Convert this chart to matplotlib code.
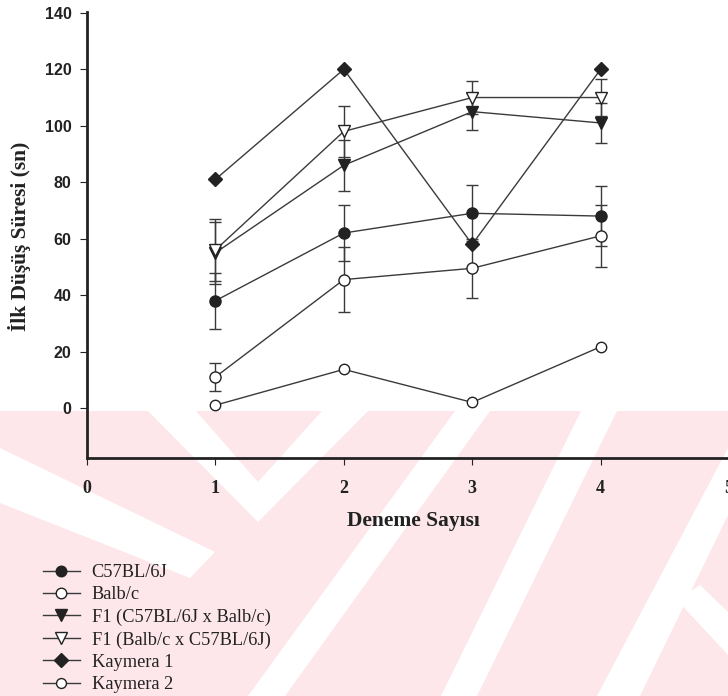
import matplotlib
matplotlib.use("Agg")
import matplotlib.pyplot as plt
from matplotlib.patches import Polygon
from matplotlib.lines import Line2D

# ---------------- data ----------------
trials = [1, 2, 3, 4]
series_names = ["C57BL/6J", "Balb/c", "F1 (C57BL/6J x Balb/c)",
                "F1 (Balb/c x C57BL/6J)", "Kaymera 1", "Kaymera 2"]
c57 = [38, 62, 69, 68]
c57_err = [10, 10, 10, 10.5]
balbc = [11, 45.5, 49.5, 61]
balbc_err = [5, 11.5, 10.5, 11]
f1_cb = [55, 86, 105, 101]
f1_cb_err = [11, 9, 6.5, 7]
f1_bc = [56, 98, 110, 110]
f1_bc_err = [11, 9, 6, 6.5]
kaymera1 = [81, 120, 58, 120]
kaymera2 = [1, 13.7, 2, 21.7]

x_ticks = [0, 1, 2, 3, 4, 5]
y_ticks = [0, 20, 40, 60, 80, 100, 120, 140]

# ---------------- figure ----------------
W, H = 728, 696
fig = plt.figure(figsize=(W / 100, H / 100), dpi=100)

# background watermark layer (pixel coordinates, y downward)
bg = fig.add_axes([0, 0, 1, 1], zorder=-5)
bg.set_xlim(0, W)
bg.set_ylim(H, 0)
bg.axis("off")
pink = (0.992, 0.906, 0.922)
bg.add_patch(Polygon([(0, 411), (W, 411), (W, H), (0, H)], closed=True,
                     facecolor=pink, edgecolor="none"))
white_shapes = [
    # left "\" band
    [(0, 448), (215, 552), (190, 578), (0, 503)],
    # V band
    [(148, 411), (196, 411), (258, 482), (322, 411), (368, 411), (258, 522)],
    # "/" bands
    [(455, 411), (490, 411), (285, 696), (248, 696)],
    [(581, 411), (617, 411), (477, 696), (441, 696)],
    [(W, 448), (W, 515), (640, 696), (597, 696)],
    # lower right "\" stripe
    [(677, 600), (700, 585), (W, 612), (W, 655)],
]
for pts in white_shapes:
    bg.add_patch(Polygon(pts, closed=True, facecolor="white", edgecolor="none"))

# main axes
ax_left = 87 / W
ax_bottom = 1 - 458 / H
ax_width = (729 - 87) / W
ax_height = (458 - 12) / H
ax = fig.add_axes([ax_left, ax_bottom, ax_width, ax_height])
ax.set_facecolor("none")

ink = "#222222"
lc = "#3a3a3a"
series = [
    (c57, c57_err, dict(marker="o", mfc=ink, ms=8)),
    (balbc, balbc_err, dict(marker="o", mfc="white", ms=8)),
    (f1_cb, f1_cb_err, dict(marker="v", mfc=ink, ms=8.5)),
    (f1_bc, f1_bc_err, dict(marker="v", mfc="white", ms=8.5)),
    (kaymera1, None, dict(marker="D", mfc=ink, ms=7)),
    (kaymera2, None, dict(marker="o", mfc="white", ms=7.5)),
]

handles = []
for name, (vals, errs, st) in zip(series_names, series):
    if errs is not None:
        ax.errorbar(trials, vals, yerr=errs, fmt="none", ecolor=lc,
                    elinewidth=1.0, capsize=4, capthick=1.0, zorder=2)
    ax.plot(trials, vals, color=lc, lw=1.0, zorder=3)
    ax.plot(trials, vals, linestyle="none", marker=st["marker"],
            mfc=st["mfc"], mec=ink, mew=1.0, ms=st["ms"], zorder=4)
    handles.append(Line2D([], [], color=lc, lw=1.0, marker=st["marker"],
                          mfc=st["mfc"], mec=ink, mew=1.0,
                          ms=st["ms"] * 0.95, label=name))

ax.set_xlim(0, 5)
ax.set_ylim(-17.7, 140.3)
ax.set_xticks(x_ticks)
ax.set_yticks(y_ticks)
ax.set_xticklabels([str(v) for v in x_ticks], fontfamily="Liberation Serif",
                   fontweight="bold", fontsize=13, color=ink)
ax.set_yticklabels([str(v) for v in y_ticks], fontfamily="Liberation Sans",
                   fontweight="bold", fontsize=11.5, color=ink)
ax.tick_params(axis="y", direction="out", length=5, width=0.8, pad=6, colors=ink)
ax.tick_params(axis="x", direction="out", length=5, width=0.8, pad=11, colors=ink)
for s in ("top", "right"):
    ax.spines[s].set_visible(False)
for s in ("left", "bottom"):
    ax.spines[s].set_linewidth(2.0)
    ax.spines[s].set_color(ink)

fig.text(413 / W, 1 - 521 / H, "Deneme Sayısı", ha="center", va="center",
         fontfamily="Liberation Serif", fontweight="bold", fontsize=15.5,
         color=ink)
fig.text(20 / W, 1 - 236 / H, "İlk Düşüş Süresi (sn)", ha="center",
         va="center", rotation=90, fontfamily="Liberation Serif",
         fontweight="bold", fontsize=15.5, color=ink)

leg = fig.legend(handles=handles, loc="upper left",
                 bbox_to_anchor=(43 / W, 1 - 564 / H), frameon=False,
                 prop={"family": "Liberation Serif", "size": 13.2},
                 handlelength=2.0, handletextpad=0.65, labelspacing=0.29,
                 borderpad=0, borderaxespad=0)
for t in leg.get_texts():
    t.set_color(ink)

fig.savefig("out.png", dpi=100)
